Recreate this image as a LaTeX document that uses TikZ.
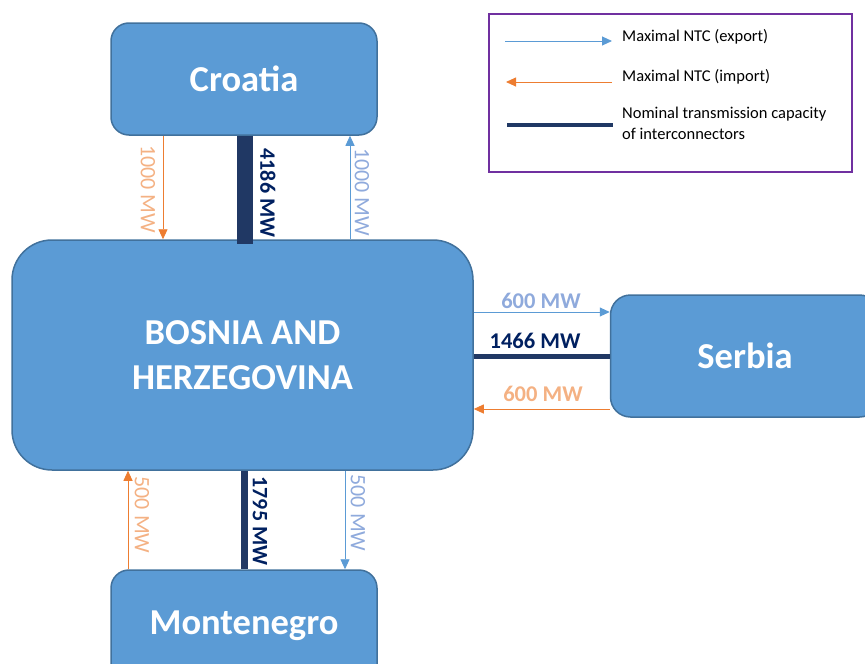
\documentclass[tikz,border=0pt]{standalone}
\usepackage{fontspec}
\setmainfont{Carlito}
\usetikzlibrary{arrows.meta}
\definecolor{boxfill}{HTML}{5B9BD5}
\definecolor{boxline}{HTML}{41719C}
\definecolor{expblue}{HTML}{5B9BD5}
\definecolor{imporange}{HTML}{ED7D31}
\definecolor{explabel}{HTML}{8FAADC}
\definecolor{implabel}{HTML}{F4B183}
\definecolor{capbar}{HTML}{203864}
\definecolor{caplabel}{HTML}{002060}
\definecolor{legframe}{HTML}{7030A0}
\begin{document}
\begin{tikzpicture}[x=1pt,y=-1pt,
  country/.style={draw=boxline, line width=1.5pt, fill=boxfill, rounded corners=#1,
    text=white, font=\fontsize{36.5}{45}\selectfont\bfseries, align=center, inner sep=0pt},
  exportline/.style={draw=expblue, line width=0.9pt, -{Triangle[length=10pt,width=9pt]}},
  importline/.style={draw=imporange, line width=0.9pt, -{Triangle[length=10pt,width=9pt]}},
  capline/.style={draw=capbar, line width=#1},
  vlabel/.style={rotate=-90, inner sep=0pt, font=\fontsize{22}{26}\selectfont},
  vcaplabel/.style={vlabel, text=caplabel, font=\fontsize{22}{26}\selectfont\bfseries},
  hlabel/.style={inner sep=0pt, font=\fontsize{22.5}{26}\selectfont\bfseries},
  legtext/.style={anchor=west, inner sep=0pt, align=left, font=\fontsize{16.5}{21}\selectfont}
]
\useasboundingbox (0,0) rectangle (865,664);
\clip (0,0) rectangle (865,664);

% countries
\node[country=18pt, minimum width=266, minimum height=112] (cro) at (244,79) {Croatia};
\node[country=40pt, minimum width=461, minimum height=230] (bih) at (242.5,355) {BOSNIA AND\\HERZEGOVINA};
\node[country=20pt, minimum width=269, minimum height=122] (ser) at (745,356) {Serbia};
\node[country=18pt, minimum width=266, minimum height=112] (mne) at (244,626) {Montenegro};

% Croatia -- Bosnia and Herzegovina
\draw[importline] (cro.south -| 163,0) -- (bih.north -| 163,0);
\draw[capline=16pt, shorten >=-5pt] (cro.south -| 245,0) -- (bih.north -| 245,0);
\draw[exportline] (bih.north -| 350,0) -- (cro.south -| 350,0);
\node[vlabel, text=implabel] (l1) at (148,189) {1000 MW};
\node[vcaplabel] (l2) at (268,193) {4186 MW};
\node[vlabel, text=explabel] (l3) at (362,192) {1000 MW};

% Serbia -- Bosnia and Herzegovina
\draw[exportline] (bih.east |- 0,312) -- (ser.west |- 0,312);
\draw[capline=5pt] (bih.east |- 0,356) -- (ser.west |- 0,356);
\draw[importline] (ser.west |- 0,409) -- (bih.east |- 0,409);
\node[hlabel, text=explabel] (l4) at (541,301) {600 MW};
\node[hlabel, text=caplabel] (l5) at (535,341) {1466 MW};
\node[hlabel, text=implabel] (l6) at (543,394) {600 MW};

% Montenegro -- Bosnia and Herzegovina
\draw[importline] (mne.north -| 128,0) -- (bih.south -| 128,0);
\draw[capline=7pt] (bih.south -| 244,0) -- (mne.north -| 244,0);
\draw[exportline] (bih.south -| 345,0) -- (mne.north -| 345,0);
\node[vlabel, text=implabel] (l7) at (142,515) {500 MW};
\node[vcaplabel] (l8) at (260,521) {1795 MW};
\node[vlabel, text=explabel] (l9) at (358,513) {500 MW};

% legend
\node[draw=legframe, line width=2pt, minimum width=363, minimum height=158, inner sep=0pt] (legend) at (670.5,93) {};
\coordinate (e1) at (505,41);
\coordinate (e2) at (612,41);
\coordinate (i1) at (612,82);
\coordinate (i2) at (506,82);
\coordinate (c1) at (507,125);
\coordinate (c2) at (613,125);
\draw[exportline] (e1) -- (e2);
\draw[importline] (i1) -- (i2);
\draw[capline=4.5pt] (c1) -- (c2);
\node[legtext] (t1) at (622,37) {Maximal NTC (export)};
\node[legtext] (t2) at (622,77) {Maximal NTC (import)};
\node[legtext] (t3) at (622,123.5) {Nominal transmission capacity\\of interconnectors};
\end{tikzpicture}
\end{document}
